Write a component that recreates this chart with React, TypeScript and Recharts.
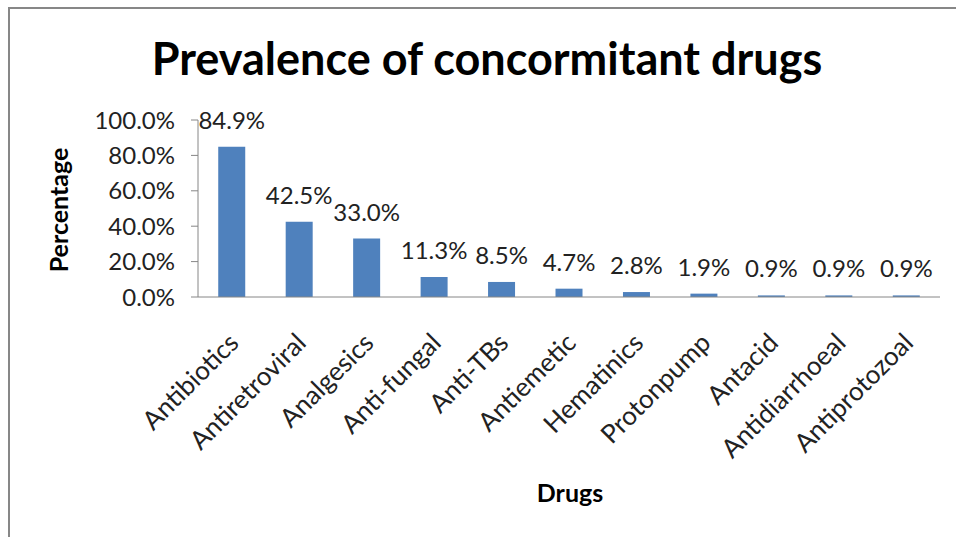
import { BarChart, Bar, XAxis, YAxis, LabelList } from "recharts";

const drugs = [
  "Antibiotics",
  "Antiretroviral",
  "Analgesics",
  "Anti-fungal",
  "Anti-TBs",
  "Antiemetic",
  "Hematinics",
  "Protonpump",
  "Antacid",
  "Antidiarrhoeal",
  "Antiprotozoal",
];
const prevalence = [84.9, 42.5, 33.0, 11.3, 8.5, 4.7, 2.8, 1.9, 0.9, 0.9, 0.9];
const yTicks = [0, 20, 40, 60, 80, 100];
const boundaryTicks = [0, 1, 2, 3, 4, 5, 6, 7, 8, 9, 10, 11];

const data = drugs.map((name, i) => ({ name, value: prevalence[i] }));

const FONT = "Lato, 'Liberation Sans', sans-serif";
const AXIS = "#868686";
const pct = (v: number) => `${Number(v).toFixed(1)}%`;

// rotated category label, its top-right corner sits just left of the tick point
function DrugTick(props: any) {
  const { x, y, payload } = props;
  const ax = x - 4;
  return (
    <text
      x={ax}
      y={y}
      dy="0.68em"
      textAnchor="end"
      transform={`rotate(-45, ${ax}, ${y})`}
      fontFamily={FONT}
      fontSize={26}
      fill="#222"
    >
      {payload.value}
    </text>
  );
}

export default function App() {
  return (
    <div style={{ position: "absolute", left: 0, top: 0, width: 956, height: 537, background: "#fff", overflow: "hidden" }}>
      <div
        style={{
          position: "absolute",
          left: 8,
          top: 7,
          width: 980,
          height: 560,
          borderLeft: "2px solid #878787",
          borderTop: "2px solid #878787",
        }}
      />
      <div style={{ position: "absolute", left: 0, top: 0 }}>
        <BarChart
          width={956}
          height={537}
          data={data}
          margin={{ top: 120, right: 16, left: 0, bottom: 0 }}
          barCategoryGap="30%"
        >
          <text x={487} y={75} textAnchor="middle" fontFamily={FONT} fontWeight="bold" fontSize={45} fill="#000">
            Prevalence of concormitant drugs
          </text>
          <text
            x={68}
            y={210}
            textAnchor="middle"
            transform="rotate(-90, 68, 210)"
            fontFamily={FONT}
            fontWeight="bold"
            fontSize={25}
            fill="#000"
          >
            Percentage
          </text>
          <text x={570} y={502} textAnchor="middle" fontFamily={FONT} fontWeight="bold" fontSize={25} fill="#000">
            Drugs
          </text>
          <XAxis
            xAxisId="bounds"
            type="number"
            domain={[0, 11]}
            ticks={boundaryTicks}
            allowDataOverflow
            height={0}
            tick={false}
            tickSize={9}
            axisLine={false}
            tickLine={{ stroke: AXIS }}
          />
          <XAxis
            dataKey="name"
            interval={0}
            height={240}
            tickLine={false}
            tickSize={0}
            tickMargin={35}
            axisLine={{ stroke: AXIS }}
            tick={<DrugTick />}
          />
          <YAxis
            width={198}
            domain={[0, 100]}
            ticks={yTicks}
            tickFormatter={pct}
            tickSize={7}
            tickMargin={16}
            axisLine={{ stroke: AXIS }}
            tickLine={{ stroke: AXIS }}
            tick={{ fontSize: 24, fill: "#222", fontFamily: FONT }}
          />
          <Bar dataKey="value" fill="#4F81BD" isAnimationActive={false}>
            <LabelList
              dataKey="value"
              position="top"
              offset={18}
              formatter={pct}
              style={{ fontSize: 24, fill: "#222", fontFamily: FONT }}
            />
          </Bar>
        </BarChart>
      </div>
    </div>
  );
}
